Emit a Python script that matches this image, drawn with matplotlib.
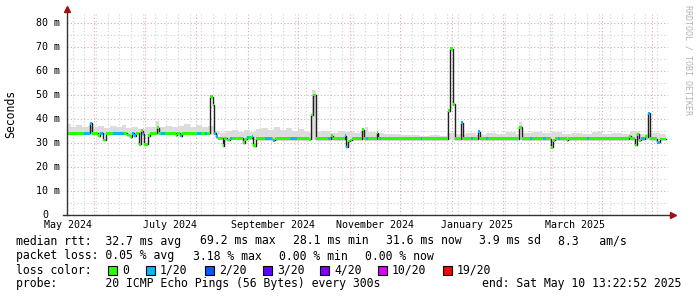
import datetime as dt

import matplotlib
matplotlib.use("Agg")
import matplotlib.pyplot as plt
import matplotlib.dates as mdates
import numpy as np

W, H = 697, 297
start = dt.datetime(2024, 5, 15, 13, 22, 52)
end = dt.datetime(2025, 5, 10, 13, 22, 52)

# median rtt as steps: day offset from start, value in ms, loss level index
med_day = [0, 10.2, 13.8, 15.0, 18.6, 19.8, 21.6, 23.4, 27.6, 34.1, 35.9, 37.7, 38.9, 40.1,
           41.3, 43.1, 44.3, 45.5, 46.1, 48.5, 49.7, 53.9, 55.1, 56.3, 58.7, 65.3, 65.9,
           67.7, 68.9, 77.9, 80.3, 82.7, 83.9, 85.7, 87.5, 88.1, 89.3, 90.5, 93.2, 93.8,
           95.6, 97.6, 98.8, 105.4, 106.6, 107.8, 109.0, 110.8, 111.4, 113.2, 118.6, 122.8,
           123.4, 124.6, 133.6, 137.8, 145.0, 146.2, 147.4, 149.2, 156.3, 158.1, 159.3,
           166.5, 167.1, 168.3, 169.5, 170.7, 176.7, 177.9, 179.1, 180.3, 185.7, 186.3,
           187.5, 188.1, 212.1, 212.7, 228.2, 229.4, 231.2, 232.4, 236.0, 237.2, 242.0,
           243.2, 246.2, 247.4, 251.0, 252.2, 270.8, 272.6, 277.3, 278.5, 285.1, 286.9,
           289.9, 291.1, 292.3, 294.1, 295.3, 299.5, 300.1, 311.5, 312.7, 336.6, 337.8,
           340.2, 341.4, 342.6, 343.8, 346.2, 348.0, 349.2, 353.4, 355.2]
med_ms = [34.0, 34.0, 38.2, 34.0, 33.0, 34.0, 31.2, 34.0, 34.0, 34.0, 33.3, 32.6, 34.0, 33.0,
          34.0, 29.5, 35.0, 33.5, 29.5, 33.0, 34.0, 36.3, 34.0, 34.0, 34.0, 33.2, 34.0,
          33.0, 34.0, 34.0, 34.0, 34.0, 34.0, 49.2, 45.7, 34.0, 32.5, 32.0, 28.8, 32.0,
          31.2, 32.0, 32.0, 30.0, 31.5, 32.3, 32.2, 32.5, 28.8, 31.8, 31.8, 31.8,
          31.0, 31.8, 31.8, 31.8, 31.5, 41.6, 49.9, 31.8, 31.8, 33.0, 31.8,
          33.0, 28.3, 30.8, 31.2, 31.8, 35.4, 31.8, 31.8, 31.8, 34.3, 31.8,
          31.8, 31.8, 31.8, 31.8, 43.3, 69.2, 46.0, 31.8, 38.4, 31.8, 31.8,
          31.8, 34.7, 31.8, 31.8, 31.8, 36.5, 31.8, 31.8, 31.8, 31.8, 31.8,
          28.1, 31.0, 31.8, 31.8, 31.8, 31.0, 31.8, 31.8, 31.8, 32.8, 31.8,
          29.1, 33.5, 31.0, 31.8, 32.5, 42.3, 31.8, 30.2, 31.6]
med_loss = [0, 1, 1, 0, 0, 1, 0, 0, 1, 0, 0, 0, 1, 1,
            0, 0, 0, 1, 0, 0, 0, 0, 0, 1, 0, 0, 0,
            1, 0, 1, 0, 1, 0, 0, 0, 1, 1, 0, 0, 0,
            0, 1, 0, 0, 0, 1, 0, 1, 0, 0, 1, 0,
            1, 0, 1, 0, 0, 0, 0, 0, 1, 0, 0,
            1, 1, 0, 0, 0, 0, 0, 1, 0, 0, 0,
            1, 0, 1, 0, 0, 0, 0, 0, 1, 0, 1,
            0, 1, 0, 1, 0, 0, 0, 1, 0, 1, 0,
            0, 0, 0, 1, 0, 0, 0, 1, 0, 0, 0,
            0, 0, 0, 1, 0, 1, 0, 1, 0]
data_end = 358.8

# upper edge of the smoke (ping spread)
smoke_day = [0, 2.4, 5.4, 9.0, 12.6, 15.0, 18.6, 22.2, 25.8, 29.4, 32.9, 35.3, 39.0, 42.5,
             46.7, 50.9, 53.3, 55.1, 58.7, 62.9, 66.5, 70.1, 73.7, 77.3, 80.9, 84.5, 88.1,
             91.6, 95.2, 98.8, 102.4, 106.0, 109.6, 113.2, 116.8, 120.4, 124.0, 127.6,
             131.2, 134.8, 138.4, 142.0, 145.6, 146.8, 149.2, 152.8, 157.5, 162.3, 167.1,
             171.9, 175.5, 178.5, 180.3, 185.1, 189.9, 194.7, 199.5, 205.5, 211.5, 217.4,
             223.4, 227.6, 233.0, 239.0, 245.0, 251.0, 257.0, 263.0, 269.0, 270.8, 272.6,
             278.5, 284.5, 290.5, 296.5, 302.5, 308.5, 314.5, 320.5, 326.5, 332.5, 337.2,
             343.2, 349.2, 355.2]
smoke_hi = [38.0, 36.8, 37.3, 36.4, 37.2, 36.4, 37.0, 36.2, 37.2, 36.8, 37.4, 36.0, 36.6, 35.8,
            36.8, 36.4, 39.0, 36.8, 37.2, 36.6, 37.0, 37.8, 36.8, 37.4, 36.4, 37.0, 35.0,
            34.2, 34.8, 35.2, 34.6, 35.4, 34.6, 35.6, 36.0, 35.2, 36.4, 35.4,
            36.0, 35.0, 35.6, 34.4, 34.2, 52.0, 34.4, 34.8, 34.2, 35.0, 34.4,
            34.0, 34.8, 36.8, 34.4, 34.0, 33.6, 33.8, 33.2, 33.4, 33.0, 33.4,
            33.0, 34.2, 33.6, 34.0, 33.4, 34.2, 33.6, 34.4, 33.8, 38.6, 34.2,
            34.6, 34.0, 34.4, 33.8, 34.2, 33.6, 34.4, 33.8, 34.2, 33.6, 35.0,
            33.8, 34.2, 33.6]
smoke_lo_day = [0, 89.3]
smoke_lo = [33.4, 31.3]

loss_labels = ["0", "1/20", "2/20", "3/20", "4/20", "10/20", "19/20"]
loss_colors = ["#26ff00", "#00b8ff", "#0059ff", "#5e00ff", "#7e00ff", "#dd00ff", "#ff0000"]

stat_rtt = ["median rtt:  32.7 ms avg", "69.2 ms max", "28.1 ms min", "31.6 ms now",
            "3.9 ms sd", "8.3   am/s"]
stat_loss = ["packet loss: 0.05 % avg", "3.18 % max", "0.00 % min", "0.00 % now"]
probe_text = "probe:       20 ICMP Echo Pings (56 Bytes) every 300s"
end_text = "end: Sat May 10 13:22:52 2025"

MONO = "DejaVu Sans Mono"
GRID = "#d2d2d2"
MGRID = "#dba7a7"

fig = plt.figure(figsize=(W / 100, H / 100), dpi=100)
ax = fig.add_axes([67 / W, 1 - 215 / H, 601 / W, 201.5 / H])
t0 = mdates.date2num(start)
t1 = mdates.date2num(end)


def px(x, y):
    return x / W, 1 - y / H


# smoke
sd = np.array(smoke_day)
sw = np.diff(np.append(sd, data_end))
lo = np.array(smoke_lo)[np.searchsorted(smoke_lo_day, sd, side="right") - 1]
ax.bar(t0 + sd, np.array(smoke_hi) - lo, width=sw, bottom=lo, align="edge",
       color="#dcdcdc", linewidth=0, zorder=2)

# median line
md = np.append(med_day, data_end)
mv = np.append(med_ms, med_ms[-1])
ax.step(t0 + md, mv, where="post", color="#202020", lw=1.0, zorder=3)

# loss coloured bands on the median
band = 0.6
mw = np.diff(md)
ml = np.array(med_loss)
for i, c in enumerate(loss_colors):
    m = ml == i
    if m.any():
        ax.bar(t0 + np.array(med_day)[m], 2 * band, width=mw[m],
               bottom=np.array(med_ms)[m] - band, align="edge", color=c,
               linewidth=0, zorder=4)

ax.set_xlim(t0, t1)
ax.set_ylim(0, 201.5 / 2.404)

# grid
ax.xaxis.set_major_locator(mdates.MonthLocator())
ax.xaxis.set_minor_locator(mdates.WeekdayLocator(byweekday=mdates.SU))
ax.yaxis.set_major_locator(plt.MultipleLocator(10))
ax.yaxis.set_minor_locator(plt.MultipleLocator(5))
ax.grid(which="minor", color=GRID, linestyle=(0, (1, 2)), lw=0.8, zorder=1)
ax.grid(which="major", color=MGRID, linestyle=(0, (1, 2)), lw=0.8, zorder=1)
ax.tick_params(which="both", length=0, labelbottom=False, labelleft=False)
for s in ax.spines.values():
    s.set_visible(False)

# axis lines and arrows
ax.plot([0, 0], [0, 1.01], transform=ax.transAxes, color="#333333", lw=1.0,
        clip_on=False, zorder=5)
ax.plot([-4 / 601, 1.006], [0, 0], transform=ax.transAxes, color="#333333", lw=1.0,
        clip_on=False, zorder=5)
ax.plot([0], [(215 - 9) / 201.5], marker="^", ms=4, color="#a01010",
        transform=ax.transAxes, clip_on=False, zorder=6)
ax.plot([(673 - 67) / 601], [0], marker=">", ms=4, color="#a01010",
        transform=ax.transAxes, clip_on=False, zorder=6)

# y labels
for v in range(0, 81, 10):
    lab = "%d m" % v if v else "0"
    xr = 60 if v else 48
    ax.text((xr - 67) / 601, v, lab, transform=ax.get_yaxis_transform(),
            ha="right", va="center", family=MONO, fontsize=7.2)

# x labels at mid month, every second month
for y, mo in [(2024, 5), (2024, 7), (2024, 9), (2024, 11), (2025, 1), (2025, 3)]:
    d = dt.datetime(y, mo, 16)
    ax.text(mdates.date2num(d), -10 / 201.5, d.strftime("%B %Y"),
            transform=ax.get_xaxis_transform(), ha="center", va="center",
            family=MONO, fontsize=7.2)

fig.text(*px(10.5, 114), "Seconds", rotation=90, ha="center", va="center",
         family=MONO, fontsize=8.3)
fig.text(*px(688, 60), "RRDTOOL / TOBI OETIKER", rotation=270, ha="center",
         va="center", family=MONO, fontsize=6, color="#b4b4b4")

# legend block
fs = 8.3
rows = [241, 256, 270, 284]
for s, x in zip(stat_rtt, [16, 200, 293, 386, 479, 558]):
    fig.text(*px(x, rows[0]), s, family=MONO, fontsize=fs, va="center")
for s, x in zip(stat_loss, [16, 193, 279, 365]):
    fig.text(*px(x, rows[1]), s, family=MONO, fontsize=fs, va="center")
fig.text(*px(16, rows[2]), "loss color:", family=MONO, fontsize=fs, va="center")
for lab, c, x in zip(loss_labels, loss_colors, [108, 146, 205, 263, 320, 378, 443]):
    fig.patches.append(plt.Rectangle(px(x, rows[2] + 4.5), 9 / W, 9 / H,
                                     transform=fig.transFigure, facecolor=c,
                                     edgecolor="black", lw=0.8))
    fig.text(*px(x + 14, rows[2]), lab, family=MONO, fontsize=fs, va="center")
fig.text(*px(16, rows[3]), probe_text, family=MONO, fontsize=fs, va="center")
fig.text(*px(681, rows[3]), end_text, family=MONO, fontsize=fs, va="center", ha="right")

fig.savefig("out.png", dpi=100, facecolor="white")
